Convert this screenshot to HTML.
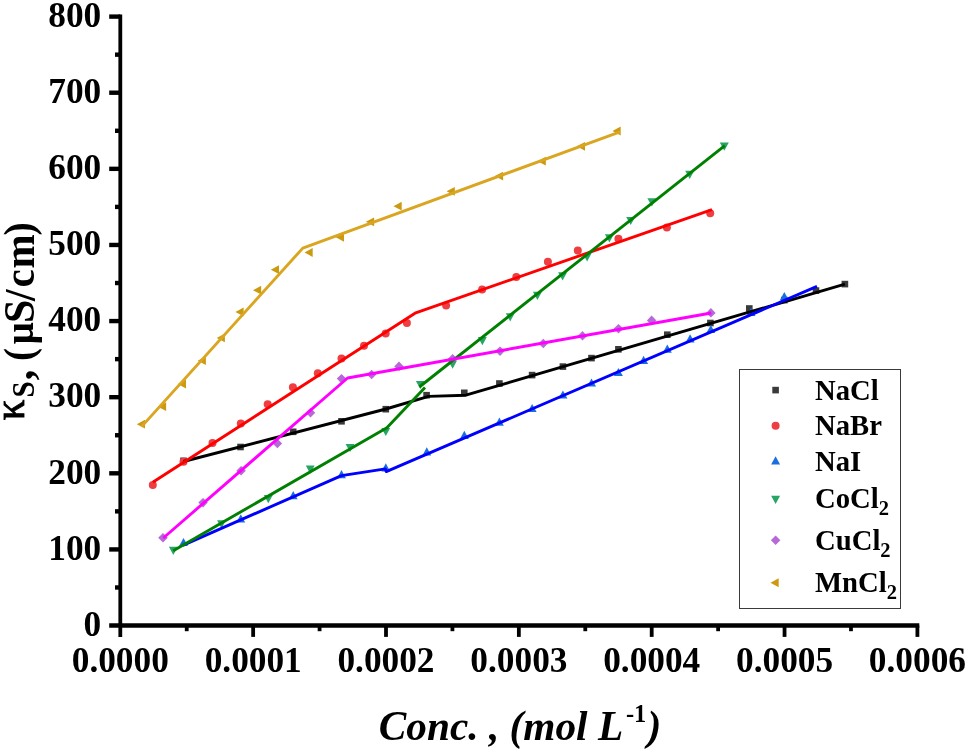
<!DOCTYPE html>
<html lang="en"><head><meta charset="utf-8"><title>Specific conductivity vs concentration</title>
<style>html,body{margin:0;padding:0;background:#fff;}body{width:968px;height:752px;overflow:hidden;}svg{display:block;}text{font-family:"Liberation Serif", "DejaVu Serif", serif;font-weight:bold;fill:#000;}</style></head><body>
<svg width="968" height="752" viewBox="0 0 968 752">
<rect x="0" y="0" width="968" height="752" fill="#ffffff"/>
<g>
<rect x="180.2" y="457.5" width="6.6" height="6.6" fill="#3a3a3a"/>
<rect x="237.2" y="443.7" width="6.6" height="6.6" fill="#3a3a3a"/>
<rect x="289.9" y="428.5" width="6.6" height="6.6" fill="#3a3a3a"/>
<rect x="338.2" y="418.0" width="6.6" height="6.6" fill="#3a3a3a"/>
<rect x="382.5" y="405.9" width="6.6" height="6.6" fill="#3a3a3a"/>
<rect x="423.3" y="391.9" width="6.6" height="6.6" fill="#3a3a3a"/>
<rect x="461.0" y="389.5" width="6.6" height="6.6" fill="#3a3a3a"/>
<rect x="496.1" y="380.2" width="6.6" height="6.6" fill="#3a3a3a"/>
<rect x="528.8" y="371.8" width="6.6" height="6.6" fill="#3a3a3a"/>
<rect x="559.6" y="363.3" width="6.6" height="6.6" fill="#3a3a3a"/>
<rect x="588.2" y="354.8" width="6.6" height="6.6" fill="#3a3a3a"/>
<rect x="615.1" y="346.0" width="6.6" height="6.6" fill="#3a3a3a"/>
<rect x="664.0" y="331.4" width="6.6" height="6.6" fill="#3a3a3a"/>
<rect x="707.1" y="319.7" width="6.6" height="6.6" fill="#3a3a3a"/>
<rect x="746.0" y="305.2" width="6.6" height="6.6" fill="#3a3a3a"/>
<rect x="781.0" y="296.8" width="6.6" height="6.6" fill="#3a3a3a"/>
<rect x="812.7" y="287.3" width="6.6" height="6.6" fill="#3a3a3a"/>
<rect x="841.6" y="280.8" width="6.6" height="6.6" fill="#3a3a3a"/>
<circle cx="152.8" cy="485.1" r="4.00" fill="#ee3e42"/>
<circle cx="183.5" cy="461.8" r="4.00" fill="#ee3e42"/>
<circle cx="212.5" cy="442.9" r="4.00" fill="#ee3e42"/>
<circle cx="240.8" cy="423.6" r="4.00" fill="#ee3e42"/>
<circle cx="267.7" cy="404.3" r="4.00" fill="#ee3e42"/>
<circle cx="292.9" cy="387.3" r="4.00" fill="#ee3e42"/>
<circle cx="317.8" cy="373.3" r="4.00" fill="#ee3e42"/>
<circle cx="341.5" cy="358.4" r="4.00" fill="#ee3e42"/>
<circle cx="364.0" cy="345.8" r="4.00" fill="#ee3e42"/>
<circle cx="385.7" cy="333.5" r="4.00" fill="#ee3e42"/>
<circle cx="406.9" cy="322.9" r="4.00" fill="#ee3e42"/>
<circle cx="446.1" cy="305.4" r="4.00" fill="#ee3e42"/>
<circle cx="482.1" cy="289.6" r="4.00" fill="#ee3e42"/>
<circle cx="516.3" cy="277.1" r="4.00" fill="#ee3e42"/>
<circle cx="547.9" cy="261.8" r="4.00" fill="#ee3e42"/>
<circle cx="577.8" cy="250.4" r="4.00" fill="#ee3e42"/>
<circle cx="618.4" cy="238.7" r="4.00" fill="#ee3e42"/>
<circle cx="666.9" cy="227.6" r="4.00" fill="#ee3e42"/>
<circle cx="710.2" cy="213.3" r="4.00" fill="#ee3e42"/>
<polygon points="183.5,537.9 187.9,546.1 179.1,546.1" fill="#1a6fe0"/>
<polygon points="240.8,514.2 245.2,522.4 236.4,522.4" fill="#1a6fe0"/>
<polygon points="293.2,491.1 297.6,499.3 288.8,499.3" fill="#1a6fe0"/>
<polygon points="341.5,470.0 345.9,478.2 337.1,478.2" fill="#1a6fe0"/>
<polygon points="385.8,463.3 390.2,471.5 381.4,471.5" fill="#1a6fe0"/>
<polygon points="426.8,447.2 431.2,455.4 422.4,455.4" fill="#1a6fe0"/>
<polygon points="464.3,430.8 468.8,439.0 459.9,439.0" fill="#1a6fe0"/>
<polygon points="499.4,417.6 503.8,425.8 494.9,425.8" fill="#1a6fe0"/>
<polygon points="532.1,403.9 536.6,412.1 527.6,412.1" fill="#1a6fe0"/>
<polygon points="562.9,390.4 567.4,398.6 558.4,398.6" fill="#1a6fe0"/>
<polygon points="591.5,378.4 596.0,386.6 587.0,386.6" fill="#1a6fe0"/>
<polygon points="618.4,367.9 622.9,376.1 613.9,376.1" fill="#1a6fe0"/>
<polygon points="643.6,355.7 648.1,363.9 639.1,363.9" fill="#1a6fe0"/>
<polygon points="667.3,344.5 671.8,352.7 662.8,352.7" fill="#1a6fe0"/>
<polygon points="690.1,334.2 694.6,342.4 685.6,342.4" fill="#1a6fe0"/>
<polygon points="710.8,324.9 715.2,333.1 706.3,333.1" fill="#1a6fe0"/>
<polygon points="751.0,307.7 755.5,315.9 746.5,315.9" fill="#1a6fe0"/>
<polygon points="784.3,292.1 788.8,300.3 779.8,300.3" fill="#1a6fe0"/>
<polygon points="173.3,554.9 177.8,546.7 168.9,546.7" fill="#27a567"/>
<polygon points="221.5,528.5 225.9,520.3 217.1,520.3" fill="#27a567"/>
<polygon points="268.3,503.3 272.8,495.1 263.9,495.1" fill="#27a567"/>
<polygon points="310.2,473.8 314.6,465.6 305.8,465.6" fill="#27a567"/>
<polygon points="350.0,452.1 354.4,443.9 345.6,443.9" fill="#27a567"/>
<polygon points="385.8,436.1 390.2,427.9 381.4,427.9" fill="#27a567"/>
<polygon points="420.4,389.1 424.8,380.9 415.9,380.9" fill="#27a567"/>
<polygon points="452.6,368.7 457.1,360.5 448.2,360.5" fill="#27a567"/>
<polygon points="482.4,345.3 486.8,337.1 477.9,337.1" fill="#27a567"/>
<polygon points="510.2,321.4 514.6,313.2 505.8,313.2" fill="#27a567"/>
<polygon points="537.4,300.0 541.9,291.8 532.9,291.8" fill="#27a567"/>
<polygon points="562.6,280.4 567.1,272.2 558.1,272.2" fill="#27a567"/>
<polygon points="587.1,261.4 591.6,253.2 582.6,253.2" fill="#27a567"/>
<polygon points="609.4,242.4 613.9,234.2 604.9,234.2" fill="#27a567"/>
<polygon points="630.7,225.1 635.2,216.9 626.2,216.9" fill="#27a567"/>
<polygon points="651.9,206.4 656.4,198.2 647.4,198.2" fill="#27a567"/>
<polygon points="689.7,178.9 694.2,170.7 685.2,170.7" fill="#27a567"/>
<polygon points="724.3,150.8 728.8,142.6 719.8,142.6" fill="#27a567"/>
<polygon points="163.0,533.0 167.8,537.7 163.0,542.5 158.2,537.7" fill="#b56ad8"/>
<polygon points="203.1,497.9 207.8,502.6 203.1,507.4 198.3,502.6" fill="#b56ad8"/>
<polygon points="241.1,465.9 245.8,470.7 241.1,475.4 236.3,470.7" fill="#b56ad8"/>
<polygon points="277.4,438.8 282.1,443.5 277.4,448.2 272.6,443.5" fill="#b56ad8"/>
<polygon points="310.5,408.1 315.2,412.8 310.5,417.6 305.8,412.8" fill="#b56ad8"/>
<polygon points="341.5,373.9 346.2,378.6 341.5,383.4 336.8,378.6" fill="#b56ad8"/>
<polygon points="371.6,369.8 376.4,374.5 371.6,379.2 366.9,374.5" fill="#b56ad8"/>
<polygon points="399.0,361.6 403.8,366.4 399.0,371.1 394.2,366.4" fill="#b56ad8"/>
<polygon points="452.6,353.9 457.4,358.7 452.6,363.4 447.9,358.7" fill="#b56ad8"/>
<polygon points="500.0,346.4 504.8,351.1 500.0,355.9 495.2,351.1" fill="#b56ad8"/>
<polygon points="543.3,338.8 548.0,343.5 543.3,348.2 538.5,343.5" fill="#b56ad8"/>
<polygon points="582.5,331.1 587.2,335.9 582.5,340.6 577.8,335.9" fill="#b56ad8"/>
<polygon points="618.5,323.9 623.2,328.6 618.5,333.4 613.8,328.6" fill="#b56ad8"/>
<polygon points="651.6,315.6 656.4,320.4 651.6,325.1 646.9,320.4" fill="#b56ad8"/>
<polygon points="710.9,308.1 715.6,312.9 710.9,317.6 706.1,312.9" fill="#b56ad8"/>
<polygon points="136.8,424.2 145.0,419.8 145.0,428.6" fill="#cc9a10"/>
<polygon points="157.9,406.7 166.1,402.2 166.1,411.1" fill="#cc9a10"/>
<polygon points="177.8,384.1 186.0,379.7 186.0,388.6" fill="#cc9a10"/>
<polygon points="197.7,360.7 205.9,356.2 205.9,365.1" fill="#cc9a10"/>
<polygon points="216.7,337.9 224.9,333.4 224.9,342.3" fill="#cc9a10"/>
<polygon points="235.4,311.9 243.6,307.4 243.6,316.3" fill="#cc9a10"/>
<polygon points="253.0,290.2 261.2,285.8 261.2,294.6" fill="#cc9a10"/>
<polygon points="270.8,269.7 279.0,265.2 279.0,274.1" fill="#cc9a10"/>
<polygon points="304.5,252.5 312.7,248.1 312.7,256.9" fill="#cc9a10"/>
<polygon points="335.8,237.3 344.0,232.9 344.0,241.8" fill="#cc9a10"/>
<polygon points="365.9,221.8 374.1,217.4 374.1,226.2" fill="#cc9a10"/>
<polygon points="393.5,206.2 401.7,201.8 401.7,210.6" fill="#cc9a10"/>
<polygon points="446.6,191.3 454.8,186.9 454.8,195.8" fill="#cc9a10"/>
<polygon points="494.9,176.1 503.1,171.7 503.1,180.5" fill="#cc9a10"/>
<polygon points="537.6,161.2 545.8,156.8 545.8,165.6" fill="#cc9a10"/>
<polygon points="576.8,146.3 585.0,141.9 585.0,150.8" fill="#cc9a10"/>
<polygon points="612.5,131.1 620.7,126.6 620.7,135.5" fill="#cc9a10"/>
</g>
<g fill="none" stroke-width="2.9" stroke-linejoin="round" stroke-linecap="butt">
<polyline points="183.5,461.5 385.9,409.0 428.6,396.4 465.8,395.2 844.9,284.1" stroke="#000000"/>
<polyline points="152.8,482.3 415.0,313.2 712.0,209.6" stroke="#ff0000"/>
<polyline points="182.8,545.4 341.5,475.6 385.3,468.9 386.2,471.6 817.0,286.3" stroke="#0000ff"/>
<polyline points="173.3,550.7 386.9,427.7 425.0,387.5" stroke="#008000"/>
<polyline points="419.3,387.0 724.8,145.7" stroke="#008000"/>
<polyline points="163.3,538.0 347.6,378.0 711.2,313.0" stroke="#ff00ff"/>
<polyline points="141.6,426.6 302.8,248.1 620.0,131.8" stroke="#daa520"/>
</g>
<g stroke="#000" fill="none">
<line x1="120.3" y1="14.40" x2="120.3" y2="636.9" stroke-width="3.8"/>
<line x1="109.2" y1="625.55" x2="919.30" y2="625.55" stroke-width="4.4"/>
<line x1="115" y1="587.49" x2="120.3" y2="587.49" stroke-width="4.4"/>
<line x1="109.2" y1="549.43" x2="120.3" y2="549.43" stroke-width="4.4"/>
<line x1="115" y1="511.37" x2="120.3" y2="511.37" stroke-width="4.4"/>
<line x1="109.2" y1="473.31" x2="120.3" y2="473.31" stroke-width="4.4"/>
<line x1="115" y1="435.25" x2="120.3" y2="435.25" stroke-width="4.4"/>
<line x1="109.2" y1="397.19" x2="120.3" y2="397.19" stroke-width="4.4"/>
<line x1="115" y1="359.13" x2="120.3" y2="359.13" stroke-width="4.4"/>
<line x1="109.2" y1="321.07" x2="120.3" y2="321.07" stroke-width="4.4"/>
<line x1="115" y1="283.02" x2="120.3" y2="283.02" stroke-width="4.4"/>
<line x1="109.2" y1="244.96" x2="120.3" y2="244.96" stroke-width="4.4"/>
<line x1="115" y1="206.90" x2="120.3" y2="206.90" stroke-width="4.4"/>
<line x1="109.2" y1="168.84" x2="120.3" y2="168.84" stroke-width="4.4"/>
<line x1="115" y1="130.78" x2="120.3" y2="130.78" stroke-width="4.4"/>
<line x1="109.2" y1="92.72" x2="120.3" y2="92.72" stroke-width="4.4"/>
<line x1="115" y1="54.66" x2="120.3" y2="54.66" stroke-width="4.4"/>
<line x1="109.2" y1="16.60" x2="120.3" y2="16.60" stroke-width="4.4"/>
<line x1="186.73" y1="625.55" x2="186.73" y2="631.2" stroke-width="3.8"/>
<line x1="253.15" y1="625.55" x2="253.15" y2="636.9" stroke-width="3.8"/>
<line x1="319.58" y1="625.55" x2="319.58" y2="631.2" stroke-width="3.8"/>
<line x1="386.00" y1="625.55" x2="386.00" y2="636.9" stroke-width="3.8"/>
<line x1="452.43" y1="625.55" x2="452.43" y2="631.2" stroke-width="3.8"/>
<line x1="518.85" y1="625.55" x2="518.85" y2="636.9" stroke-width="3.8"/>
<line x1="585.28" y1="625.55" x2="585.28" y2="631.2" stroke-width="3.8"/>
<line x1="651.70" y1="625.55" x2="651.70" y2="636.9" stroke-width="3.8"/>
<line x1="718.13" y1="625.55" x2="718.13" y2="631.2" stroke-width="3.8"/>
<line x1="784.55" y1="625.55" x2="784.55" y2="636.9" stroke-width="3.8"/>
<line x1="850.98" y1="625.55" x2="850.98" y2="631.2" stroke-width="3.8"/>
<line x1="917.40" y1="625.55" x2="917.40" y2="636.9" stroke-width="3.8"/>
</g>
<g font-size="35.3" text-anchor="end">
<text x="101.2" y="635.8">0</text>
<text x="101.2" y="559.7">100</text>
<text x="101.2" y="483.6">200</text>
<text x="101.2" y="407.4">300</text>
<text x="101.2" y="331.3">400</text>
<text x="101.2" y="255.2">500</text>
<text x="101.2" y="179.1">600</text>
<text x="101.2" y="103.0">700</text>
<text x="101.2" y="26.9">800</text>
</g>
<g font-size="35.3" text-anchor="middle">
<text x="120.3" y="671.7">0.0000</text>
<text x="253.2" y="671.7">0.0001</text>
<text x="386.0" y="671.7">0.0002</text>
<text x="518.9" y="671.7">0.0003</text>
<text x="651.7" y="671.7">0.0004</text>
<text x="784.6" y="671.7">0.0005</text>
<text x="917.4" y="671.7">0.0006</text>
</g>
<text font-size="41.3" font-style="italic" x="378.8" y="740">Conc. , (mol L<tspan font-size="24.5" font-style="normal" dx="2.8" dy="-17.7">-1</tspan><tspan dx="1.2" dy="17.7">)</tspan></text>
<text transform="translate(34,0) rotate(-90) scale(1,1.07)"><tspan x="-420.3" y="-9.35" style="font-size:41px;font-weight:normal;stroke:#000;stroke-width:0.8px">κ</tspan><tspan x="-397.6" y="0.00" style="font-size:29px;font-weight:bold">S</tspan><tspan x="-380.3" y="-0.56" style="font-size:42px;font-weight:bold">, </tspan><tspan x="-361.0" y="-0.93" style="font-size:39.5px;font-weight:bold">(</tspan><tspan x="-344.2" y="-0.93" style="font-size:38.6px;font-weight:bold">μ</tspan><tspan x="-322.9" y="0.00" style="font-size:42px;font-weight:bold">S</tspan><tspan x="-301.0" y="0.93" style="font-size:42px;font-weight:bold">/</tspan><tspan x="-287.6" y="0.00" style="font-size:41px;font-weight:bold">c</tspan><tspan x="-268.6" y="0.00" style="font-size:41px;font-weight:bold">m</tspan><tspan x="-235.6" y="-0.56" style="font-size:39.5px;font-weight:bold">)</tspan></text>
<rect x="739.5" y="369.5" width="161" height="239" fill="#fff" stroke="#3a3a3a" stroke-width="1"/>
<rect x="772.3" y="386.8" width="6.6" height="6.6" fill="#3a3a3a"/>
<text font-size="28.7" x="815.0" y="399.8">NaCl</text>
<circle cx="775.6" cy="425.7" r="4.00" fill="#ee3e42"/>
<text font-size="28.7" x="815.0" y="435.4">NaBr</text>
<polygon points="775.6,456.3 780.1,464.5 771.1,464.5" fill="#1a6fe0"/>
<text font-size="28.7" x="815.0" y="471.4">NaI</text>
<polygon points="775.6,503.9 780.1,495.7 771.1,495.7" fill="#27a567"/>
<text font-size="28.7" x="815.0" y="507.8">CoCl<tspan font-size="20.5" dy="7.2">2</tspan></text>
<polygon points="775.6,535.5 780.4,540.3 775.6,545.0 770.9,540.3" fill="#b56ad8"/>
<text font-size="28.7" x="815.0" y="549.6">CuCl<tspan font-size="20.5" dy="7.2">2</tspan></text>
<polygon points="770.5,582.8 778.7,578.3 778.7,587.2" fill="#cc9a10"/>
<text font-size="28.7" x="815.0" y="591.8">MnCl<tspan font-size="20.5" dy="7.2">2</tspan></text>
</svg></body></html>
